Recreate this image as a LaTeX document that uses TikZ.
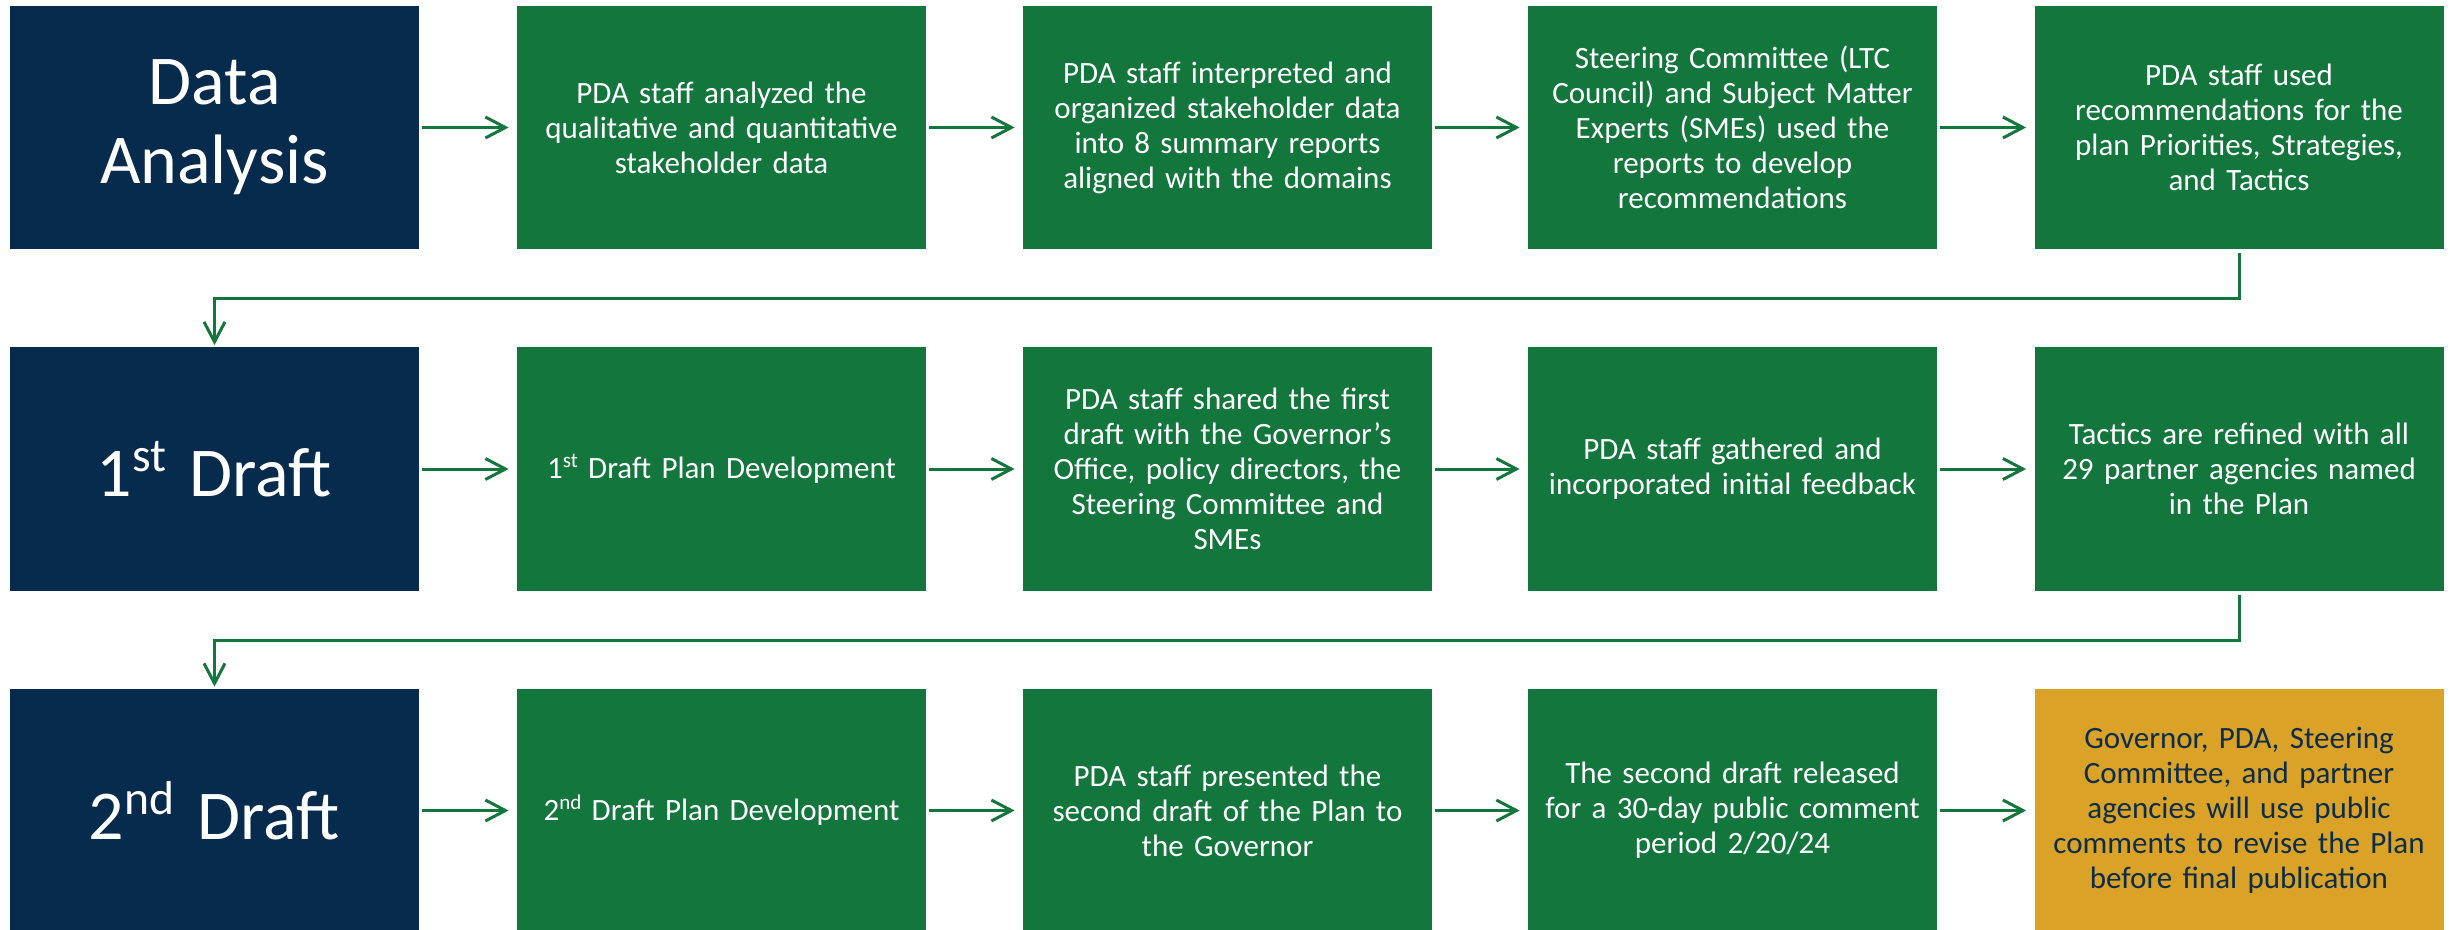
\documentclass[tikz,border=0pt]{standalone}
\usepackage{fontspec}
\setmainfont{Carlito}
\usetikzlibrary{arrows.meta}
\definecolor{navy}{RGB}{7,43,77}
\definecolor{grn}{RGB}{19,118,60}
\definecolor{gold}{RGB}{218,162,38}
\definecolor{goldtext}{RGB}{12,45,72}
\newcommand{\ordsup}[1]{\raisebox{0.36em}{\fontsize{0.68em}{0.68em}\selectfont #1}}
\begin{document}
\begin{tikzpicture}[x=0.5pt,y=-0.5pt,
  basebox/.style={rectangle, minimum width=204.5pt, minimum height=121.5pt, inner sep=0pt, align=center, text width=196pt},
  stagebox/.style={basebox, fill=navy, text=white, font=\fontsize{35pt}{39.5pt}\selectfont},
  stepbox/.style={basebox, fill=grn, text=white, font=\fontsize{15.5pt}{17.5pt}\selectfont},
  finalbox/.style={basebox, fill=gold, text=goldtext, font=\fontsize{15.5pt}{17.5pt}\selectfont},
  conn/.style={draw=grn, line width=1.5pt, -{Straight Barb[length=10pt,width=10.5pt]}},
  hconn/.style={conn, shorten <=1.5pt, shorten >=4pt},
  vconn/.style={conn, shorten <=2pt, shorten >=1pt}]
\useasboundingbox (0,0) rectangle (2450,930);
\fill[white] (0,0) rectangle (2450,930);
% row 1
\node[stagebox] (r1d) at (214.5,127.5) {Data\\Analysis};
\node[stepbox] (r1a) at (721.5,127.5) {PDA staff analyzed the\\qualitative and quantitative\\stakeholder data};
\node[stepbox] (r1b) at (1227.5,127.5) {PDA staff interpreted and\\organized stakeholder data\\into 8 summary reports\\aligned with the domains};
\node[stepbox] (r1c) at (1732.5,127.5) {Steering Committee (LTC\\Council) and Subject Matter\\Experts (SMEs) used the\\reports to develop\\recommendations};
\node[stepbox] (r1e) at (2239,127.5) {PDA staff used\\recommendations for the\\plan Priorities, Strategies,\\and Tactics};
% row 2
\node[stagebox] (r2d) at (214.5,469) {1\ordsup{st} Draft};
\node[stepbox] (r2a) at (721.5,469) {1\ordsup{st} Draft Plan Development};
\node[stepbox] (r2b) at (1227.5,469) {PDA staff shared the first\\draft with the Governor’s\\Office, policy directors, the\\Steering Committee and\\SMEs};
\node[stepbox] (r2c) at (1732.5,469) {PDA staff gathered and\\incorporated initial feedback};
\node[stepbox] (r2e) at (2239,469) {Tactics are refined with all\\29 partner agencies named\\in the Plan};
% row 3
\node[stagebox] (r3d) at (214.5,810.5) {2\ordsup{nd} Draft};
\node[stepbox] (r3a) at (721.5,810.5) {2\ordsup{nd} Draft Plan Development};
\node[stepbox] (r3b) at (1227.5,810.5) {PDA staff presented the\\second draft of the Plan to\\the Governor};
\node[stepbox] (r3c) at (1732.5,810.5) {The second draft released\\for a 30-day public comment\\period 2/20/24};
\node[finalbox] (r3e) at (2239,810.5) {Governor, PDA, Steering\\Committee, and partner\\agencies will use public\\comments to revise the Plan\\before final publication};
% horizontal connectors
\foreach \r in {1,2,3}{
  \draw[hconn] (r\r d.east) -- (r\r a.west);
  \draw[hconn] (r\r a.east) -- (r\r b.west);
  \draw[hconn] (r\r b.east) -- (r\r c.west);
  \draw[hconn] (r\r c.east) -- (r\r e.west);
}
% row-to-row connectors
\coordinate (k1) at (214.5,299);
\coordinate (k2) at (214.5,640);
\draw[vconn] (r1e.south) |- (k1) -- (r2d.north);
\draw[vconn] (r2e.south) |- (k2) -- (r3d.north);
\end{tikzpicture}
\end{document}
